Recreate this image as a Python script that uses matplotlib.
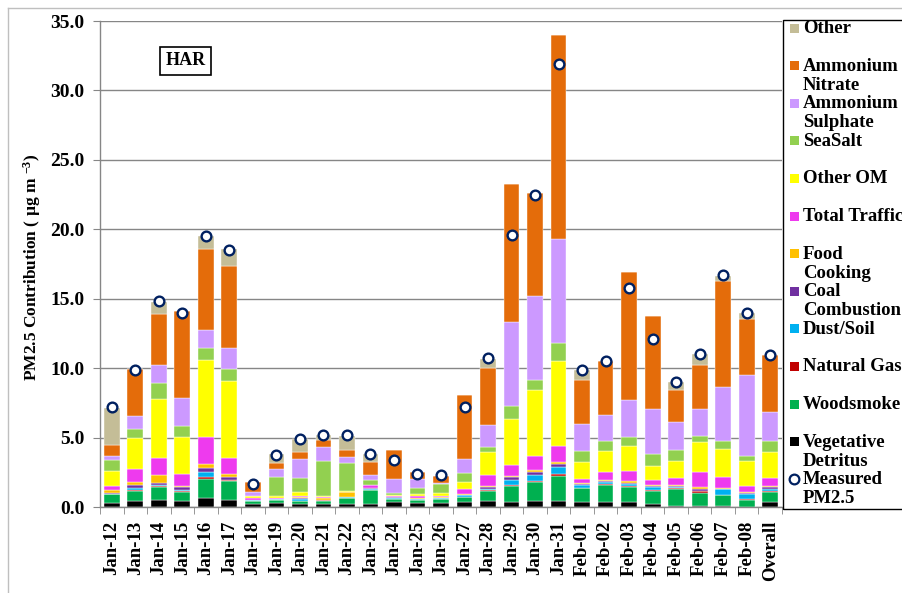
import numpy as np
import matplotlib.pyplot as plt
from matplotlib.patches import Rectangle
from matplotlib.lines import Line2D

plt.rcParams['font.family'] = ['Liberation Serif', 'DejaVu Serif']
plt.rcParams['font.weight'] = 'bold'
plt.rcParams['mathtext.default'] = 'regular'

dates = ['Jan-12', 'Jan-13', 'Jan-14', 'Jan-15', 'Jan-16', 'Jan-17', 'Jan-18',
         'Jan-19', 'Jan-20', 'Jan-21', 'Jan-22', 'Jan-23', 'Jan-24', 'Jan-25',
         'Jan-26', 'Jan-27', 'Jan-28', 'Jan-29', 'Jan-30', 'Jan-31', 'Feb-01',
         'Feb-02', 'Feb-03', 'Feb-04', 'Feb-05', 'Feb-06', 'Feb-07', 'Feb-08',
         'Overall']

# source contributions (ug m-3), bottom of the stack first
veg = [0.26, 0.43, 0.53, 0.41, 0.62, 0.53, 0.24, 0.26, 0.22, 0.24, 0.24, 0.24,
       0.34, 0.26, 0.29, 0.34, 0.41, 0.38, 0.43, 0.43, 0.34, 0.38, 0.34, 0.24,
       0.10, 0.10, 0.05, 0.03, 0.34]
wood = [0.65, 0.72, 0.91, 0.65, 1.42, 1.32, 0.17, 0.22, 0.19, 0.22, 0.41, 0.96,
        0.24, 0.22, 0.29, 0.36, 0.74, 1.11, 1.35, 1.78, 1.00, 1.20, 1.10, 0.94,
        1.22, 0.91, 0.79, 0.50, 0.72]
natgas = [0.02, 0.08, 0.10, 0.12, 0.12, 0.07, 0.02, 0.02, 0.03, 0.02, 0.03, 0.03,
          0.03, 0.02, 0.02, 0.02, 0.08, 0.07, 0.12, 0.19, 0.03, 0.06, 0.04, 0.04,
          0.08, 0.12, 0.05, 0.02, 0.06]
dust = [0.04, 0.15, 0.04, 0.08, 0.34, 0.04, 0.06, 0.05, 0.15, 0.03, 0.02, 0.08,
        0.07, 0.08, 0.04, 0.14, 0.05, 0.41, 0.43, 0.48, 0.24, 0.15, 0.20, 0.22,
        0.04, 0.05, 0.41, 0.41, 0.19]
coal = [0.04, 0.18, 0.15, 0.18, 0.31, 0.18, 0.02, 0.02, 0.05, 0.02, 0.03, 0.03,
        0.02, 0.02, 0.02, 0.02, 0.14, 0.19, 0.17, 0.24, 0.04, 0.08, 0.05, 0.05,
        0.10, 0.14, 0.02, 0.05, 0.10]
food = [0.24, 0.26, 0.57, 0.10, 0.31, 0.26, 0.02, 0.03, 0.08, 0.15, 0.33, 0.04,
        0.04, 0.03, 0.03, 0.04, 0.12, 0.10, 0.14, 0.10, 0.08, 0.10, 0.12, 0.12,
        0.03, 0.12, 0.05, 0.05, 0.13]
traffic = [0.24, 0.94, 1.23, 0.86, 1.90, 1.10, 0.09, 0.05, 0.10, 0.04, 0.02, 0.18,
           0.08, 0.14, 0.10, 0.40, 0.76, 0.79, 1.01, 1.15, 0.31, 0.53, 0.72, 0.31,
           0.54, 1.08, 0.79, 0.43, 0.57]
other_om = [1.13, 2.18, 4.27, 2.66, 5.59, 5.60, 0.15, 0.12, 0.26, 0.10, 0.10, 0.05,
            0.05, 0.19, 0.19, 0.46, 1.66, 3.31, 4.75, 6.17, 1.18, 1.56, 1.85, 1.06,
            1.23, 2.18, 2.04, 1.80, 1.83]
seasalt = [0.79, 0.70, 1.13, 0.75, 0.86, 0.84, 0.05, 1.37, 0.98, 2.47, 1.99, 0.36,
           0.14, 0.38, 0.70, 0.67, 0.34, 0.94, 0.72, 1.27, 0.84, 0.67, 0.62, 0.84,
           0.79, 0.44, 0.53, 0.41, 0.84]
amm_sulph = [0.29, 0.89, 1.32, 2.04, 1.30, 1.53, 0.24, 0.62, 1.40, 1.01, 0.43, 0.31,
             1.03, 0.70, 0.05, 1.01, 1.60, 6.05, 6.10, 7.49, 1.94, 1.90, 2.69, 3.26,
             1.97, 1.92, 3.89, 5.78, 2.06]
amm_nitr = [0.79, 3.41, 3.67, 6.29, 5.78, 5.86, 0.72, 0.41, 0.52, 0.50, 0.48, 0.94,
            2.09, 0.46, 0.48, 4.58, 4.11, 9.91, 7.42, 14.67, 3.17, 3.91, 9.19, 6.65,
            2.35, 3.14, 7.63, 4.06, 4.13]
other = [2.66, 0.00, 0.84, 0.00, 0.99, 1.25, 0.00, 0.65, 0.94, 0.36, 1.06, 0.62,
         0.00, 0.00, 0.00, 0.00, 0.67, 0.00, 0.00, 0.00, 0.67, 0.00, 0.00, 0.00,
         0.53, 0.82, 0.41, 0.43, 0.00]
measured = [7.20, 9.87, 14.81, 13.97, 19.52, 18.53, 1.68, 3.77, 4.90, 5.16, 5.16,
            3.84, 3.36, 2.40, 2.33, 7.20, 10.71, 19.56, 22.45, 31.88, 9.89, 10.54,
            15.75, 12.10, 9.03, 11.04, 16.71, 13.97, 10.97]

stack = [
    ('Vegetative\nDetritus', veg, '#000000'),
    ('Woodsmoke', wood, '#00B050'),
    ('Natural Gas', natgas, '#C00000'),
    ('Dust/Soil', dust, '#00B0F0'),
    ('Coal\nCombustion', coal, '#7030A0'),
    ('Food\nCooking', food, '#FFC000'),
    ('Total Traffic', traffic, '#EE3AEE'),
    ('Other OM', other_om, '#FFFF00'),
    ('SeaSalt', seasalt, '#92D050'),
    ('Ammonium\nSulphate', amm_sulph, '#CC99FF'),
    ('Ammonium\nNitrate', amm_nitr, '#E46C0A'),
    ('Other', other, '#C4BD97'),
]

W, H = 902, 593
fig = plt.figure(figsize=(W / 100, H / 100), dpi=100)
ax = fig.add_axes([100 / W, 1 - 507 / H, 682 / W, 486 / H])

x = np.arange(len(dates))
bottom = np.zeros(len(dates))
for name, vals, col in stack:
    vals = np.array(vals)
    ax.bar(x, vals, 0.67, bottom=bottom, color=col, edgecolor='white',
           linewidth=0.3, zorder=2)
    bottom += vals

ax.plot(x, measured, 'o', ms=7, mfc='white', mec='#002060', mew=1.7,
        zorder=3, label='Measured\nPM2.5')

ax.set_xlim(-0.5, len(dates) - 0.5)
ax.set_ylim(0, 35)
ax.set_yticks(np.arange(0, 35.1, 5))
ax.set_yticklabels([f'{v:.1f}' for v in np.arange(0, 35.1, 5)],
                   fontsize=14, fontweight='bold')
ax.set_xticks(x)
ax.set_xticklabels(dates, rotation=90, fontsize=13.5, fontweight='bold')
ax.set_xticks(np.arange(-0.5, len(dates)), minor=True)
ax.tick_params(axis='x', which='major', length=0, pad=10)
ax.tick_params(axis='x', which='minor', length=5, color='#868686')
ax.tick_params(axis='y', length=5, color='#868686', pad=6)
ax.grid(axis='y', color='#868686', linewidth=1.0, zorder=0)
ax.set_axisbelow(True)
for s in ['top', 'right']:
    ax.spines[s].set_visible(False)
for s in ['left', 'bottom']:
    ax.spines[s].set_color('#868686')
    ax.spines[s].set_linewidth(1.0)

ax.set_ylabel('PM2.5 Contribution ( µg m $^{-3}$)', fontsize=12.5,
              fontweight='bold')
ax.yaxis.set_label_coords(-0.083, 0.494)

ax.text(0.126, 0.918, 'HAR', transform=ax.transAxes, fontsize=13,
        fontweight='bold', ha='center', va='center',
        bbox=dict(boxstyle='square,pad=0.3', fc='white', ec='black', lw=1.2))

# chart frame (outer border)
fig.add_artist(Line2D([8 / W, 8 / W], [0, 1 - 8 / H], color='#BFBFBF', lw=1))
fig.add_artist(Line2D([8 / W, 1], [1 - 8 / H, 1 - 8 / H], color='#BFBFBF', lw=1))

# legend drawn by hand so swatches sit on the first text line
fig.add_artist(Rectangle((783 / W, 1 - 509 / H), 130 / W, 489 / H,
                         fill=False, ec='black', lw=1, transform=fig.transFigure))
legend_items = [(n, c) for n, v, c in stack[::-1]] + [('Measured\nPM2.5', None)]
for i, (name, col) in enumerate(legend_items):
    yc = 28 + i * 37.6
    if col is None:
        fig.add_artist(Line2D([794 / W], [1 - yc / H], marker='o', ms=7,
                              mfc='white', mec='#002060', mew=1.6, ls=''))
    else:
        fig.add_artist(Rectangle((790 / W, 1 - (yc + 4.5) / H), 9 / W, 9 / H,
                                 fc=col, ec='none', transform=fig.transFigure))
    fig.text(803 / W, 1 - (yc - 8) / H, name, fontsize=13.5, fontweight='bold',
             va='top', ha='left', linespacing=1.15)

fig.savefig('out.png', dpi=100)
